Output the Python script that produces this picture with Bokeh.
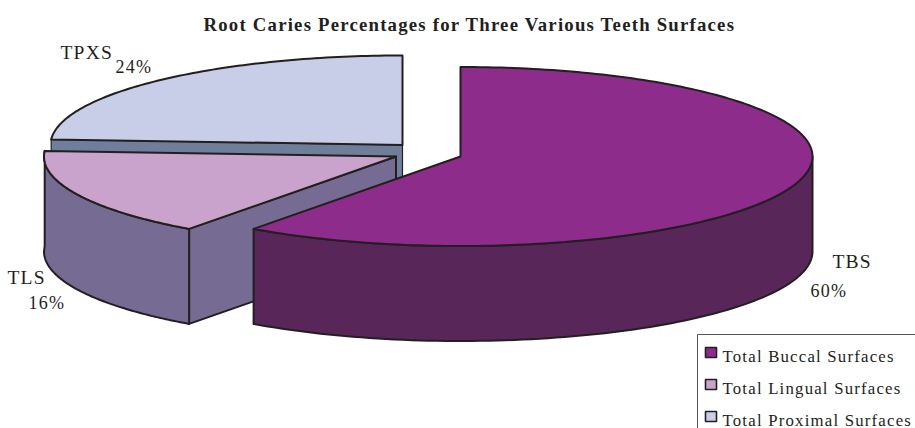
import math
from bokeh.core.properties import value
from bokeh.embed import file_html
from bokeh.plotting import figure
from bokeh.resources import INLINE

TITLE = "Root Caries Percentages for Three Various Teeth Surfaces"
short_names = ["TBS", "TLS", "TPXS"]
long_names = ["Total Buccal Surfaces", "Total Lingual Surfaces", "Total Proximal Surfaces"]
percentages = [60, 16, 24]
top_colors = ["#8e2c8c", "#c9a3cb", "#c9cee8"]
wall_colors = ["#59265a", "#756b93", "#6f7e9a"]

INK = "#231f20"
SERIF = value("Liberation Serif")

# Perspective of the pie: ellipse half-axes and wall height, in screen units.
RX, RY, DEPTH = 352, 89.5, 95
# Hub of each exploded slice on the page.
HUBS = [(460, 156), (395.5, 156), (402, 144.5)]


def rim(hub, angle):
    """Point on the top ellipse, angle in degrees clockwise from 12 o'clock."""
    a = math.radians(angle)
    return hub[0] + RX * math.sin(a), hub[1] - RY * math.cos(a)


def arc(hub, start, end, steps=90):
    return [rim(hub, start + (end - start) * i / steps) for i in range(steps + 1)]


def lowered(points):
    return [(x, y + DEPTH) for x, y in points]


p = figure(width=915, height=428, x_range=(0, 915), y_range=(428, 0),
           output_backend="svg", toolbar_location=None, min_border=0,
           outline_line_color=None, background_fill_color="white",
           styles={"letter-spacing": "1.2px"})
p.axis.visible = False
p.grid.visible = False


def poly(points, fill, width=2.0):
    p.patch([q[0] for q in points], [q[1] for q in points], fill_color=fill,
            line_color=INK, line_width=width, line_join="round")


def text(x, y, label, size, style="normal"):
    p.text([x], [y], text=[label], text_font=SERIF, text_font_size=size,
           text_font_style=style, text_color=INK, text_align="left",
           text_baseline="alphabetic")


# Slice angles follow from the percentages.
edges = [0.0]
for pct in percentages:
    edges.append(edges[-1] + pct * 3.6)

buccal_end, lingual_end = edges[1], edges[2]

# Proximal slice sits at the back: its cut face, then its top.
hub = HUBS[2]
start = rim(hub, lingual_end)
poly([hub, start, (start[0], start[1] + DEPTH), (hub[0], hub[1] + DEPTH)], wall_colors[2], 1.2)
poly([hub] + arc(hub, lingual_end, 360), top_colors[2])

# Lingual slice: cut face, curved wall, top.
hub = HUBS[1]
corner = rim(hub, buccal_end)
poly([hub, corner, (corner[0], corner[1] + DEPTH), (hub[0], hub[1] + DEPTH)], wall_colors[1])
outer = arc(hub, buccal_end, 270) + [rim(hub, lingual_end)]
poly(outer + lowered(outer)[::-1], wall_colors[1])
poly([hub] + arc(hub, buccal_end, lingual_end), top_colors[1])

# Buccal slice in front: curved wall, top.
hub = HUBS[0]
outer = arc(hub, 90, buccal_end)
poly(outer + lowered(outer)[::-1], wall_colors[0])
poly([hub] + arc(hub, 0, buccal_end, 200), top_colors[0])

# Title and slice labels.
text(203, 24, TITLE, "18.8px", "bold")
text(60, 52, short_names[2], "19.5px")
text(115, 66, f"{percentages[2]}%", "18px")
text(7, 277, short_names[1], "19.5px")
text(28, 302, f"{percentages[1]}%", "18px")
text(832, 261, short_names[0], "19.5px")
text(810, 290, f"{percentages[0]}%", "18px")

# Legend box runs off the right edge of the page.
p.quad(left=[697], right=[930], top=[334], bottom=[440], fill_color="white",
       line_color="#555555", line_width=1)
baselines = [356, 388, 420]
for i, name in enumerate(long_names):
    base = baselines[i]
    p.quad(left=[705], right=[716], top=[base - 9], bottom=[base + 1],
           fill_color=top_colors[i], line_color=INK, line_width=1.6)
    text(722, base, name, "16.8px")

open("out.html", "w").write(file_html(p, INLINE))
